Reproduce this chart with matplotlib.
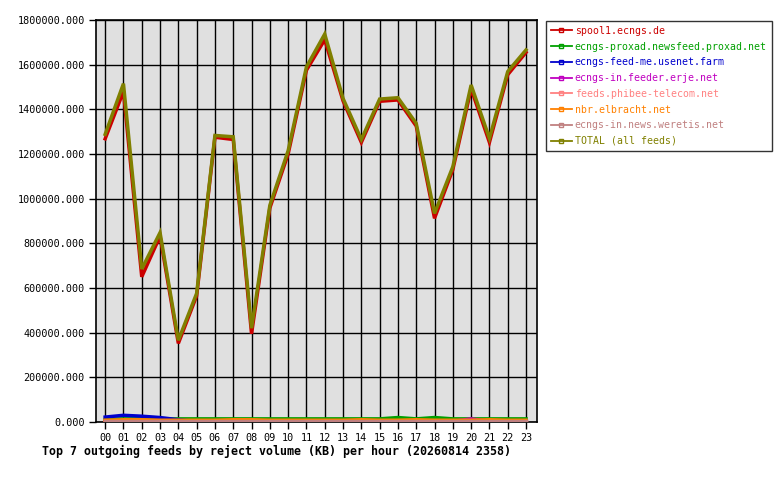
import matplotlib
matplotlib.use("Agg")
import matplotlib.pyplot as plt
from matplotlib.lines import Line2D

hours = ["00", "01", "02", "03", "04", "05", "06", "07", "08", "09", "10", "11",
         "12", "13", "14", "15", "16", "17", "18", "19", "20", "21", "22", "23"]

# values in KB
spool1 = [1268000, 1480000, 650000, 832000, 352000, 565000, 1275000, 1265000, 395000, 958000, 1200000, 1575000,
          1712000, 1438000, 1252000, 1436000, 1442000, 1325000, 912000, 1130000, 1492000, 1252000, 1555000, 1655000]
proxad = [12000, 14000, 14000, 13000, 14000, 14000, 14000, 14000, 14000, 14000, 14000, 14000,
          14000, 14000, 14000, 14000, 20000, 14000, 20000, 14000, 14000, 14000, 14000, 14000]
feedme = [22000, 30000, 26000, 20000, 10000, 2000, 2000, 2000, 2000, 2000, 2000, 2000,
          2000, 2000, 2000, 2000, 2000, 2000, 2000, 2000, 2000, 2000, 2000, 2000]
erje = [3000, 3000, 3000, 3000, 3000, 3000, 3000, 3000, 3000, 3000, 3000, 3000,
        3000, 3000, 3000, 3000, 3000, 3000, 3000, 3000, 14000, 3000, 3000, 3000]
phibee = [4000, 4000, 4000, 4000, 4000, 4000, 4000, 4000, 4000, 4000, 4000, 4000,
          4000, 4000, 4000, 4000, 4000, 4000, 4000, 4000, 4000, 4000, 4000, 4000]
elbracht = [8000, 10000, 10000, 8000, 8000, 8000, 8000, 10000, 10000, 8000, 8000, 8000,
            8000, 8000, 10000, 8000, 8000, 10000, 8000, 8000, 8000, 10000, 8000, 8000]
weretis = [5000, 5000, 5000, 5000, 5000, 5000, 5000, 5000, 5000, 5000, 5000, 5000,
           5000, 5000, 5000, 5000, 5000, 5000, 5000, 5000, 5000, 5000, 5000, 5000]
total = [1288000, 1515000, 685000, 848000, 366000, 576000, 1283000, 1277000, 420000, 970000, 1215000, 1590000,
         1737000, 1449000, 1265000, 1446000, 1452000, 1337000, 934000, 1143000, 1509000, 1270000, 1569000, 1666000]

names = ["spool1.ecngs.de", "ecngs-proxad.newsfeed.proxad.net", "ecngs-feed-me.usenet.farm",
         "ecngs-in.feeder.erje.net", "feeds.phibee-telecom.net", "nbr.elbracht.net",
         "ecngs-in.news.weretis.net", "TOTAL (all feeds)"]
series = [spool1, proxad, feedme, erje, phibee, elbracht, weretis, total]
colors = ["#cc0000", "#00a000", "#0000cc", "#c000c0", "#ff8080", "#ff8000", "#c08080", "#808000"]

mono = "DejaVu Sans Mono"
x = list(range(len(hours)))

fig = plt.figure(figsize=(7.8, 4.8), dpi=100)
ax = fig.add_axes([96/780, 58/480, 441/780, 402/480])
ax.set_facecolor("#e0e0e0")

for vals, c in zip(series, colors):
    ax.plot(x, vals, color=c, linewidth=2.5, solid_joinstyle="miter", zorder=3)

ax.set_xlim(-0.5, 23.6)
ax.set_ylim(0, 1800000)
ax.set_xticks(x)
ax.set_xticklabels(hours)
yt = list(range(0, 1800001, 200000))
ax.set_yticks(yt)
ax.set_yticklabels(["%d.000" % v for v in yt])
ax.grid(True, color="black", linewidth=1, zorder=1)
ax.set_axisbelow(True)
for s in ax.spines.values():
    s.set_linewidth(1.2)
ax.tick_params(axis="both", length=5, width=1, labelsize=7.3, pad=3)
for lab in ax.get_xticklabels() + ax.get_yticklabels():
    lab.set_family(mono)

fig.text(276/780, 1 - 451/480, "Top 7 outgoing feeds by reject volume (KB) per hour (20260814 2358)",
         family=mono, fontweight="bold", fontsize=8.4, ha="center", va="center")

handles = [Line2D([0], [0], color=c, linewidth=1.3, marker="s", markersize=2.5,
                  markerfacecolor="none", markeredgecolor=c) for c in colors]
leg = fig.legend(handles, names, loc="upper left", bbox_to_anchor=(546/780, 1 - 21/480),
                 prop={"family": mono, "size": 7.1}, frameon=True, fancybox=False,
                 handlelength=2.1, handletextpad=0.3, labelspacing=0.58, borderpad=0.5,
                 borderaxespad=0)
leg.get_frame().set_edgecolor("black")
leg.get_frame().set_linewidth(1)
for t, c in zip(leg.get_texts(), colors):
    t.set_color(c)

fig.savefig("out.png", dpi=100)
